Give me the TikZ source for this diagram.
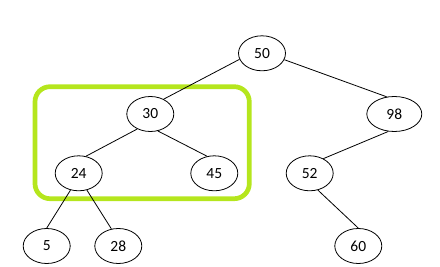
\documentclass[tikz,border=0pt]{standalone}
\usepackage{fontspec}
\setmainfont{Carlito}
\usetikzlibrary{shapes.geometric}
\definecolor{hilite}{RGB}{181,230,29}
\tikzset{
  tnode/.style={ellipse, draw=black, line width=0.8pt, minimum width=47pt, minimum height=35pt, inner sep=0pt, font=\fontsize{15.5}{18}\selectfont},
  tedge/.style={draw=black, line width=0.8pt}
}
\begin{document}
\begin{tikzpicture}[x=1pt,y=-1pt]
\useasboundingbox (0,0) rectangle (440,267);
\draw[hilite, line width=4.7pt, rounded corners=15pt] (35,86.7) rectangle (249.3,198.7);
\node[tnode] (n50) at (262,53.3) {50};
\node[tnode] (n30) at (150.3,114) {30};
\node[tnode, minimum width=55pt] (n98) at (394.3,114) {98};
\node[tnode] (n24) at (78.7,173.3) {24};
\node[tnode] (n45) at (214.3,173.3) {45};
\node[tnode] (n52) at (309.7,173.3) {52};
\node[tnode] (n5) at (46.7,246) {5};
\node[tnode] (n28) at (118.3,246) {28};
\node[tnode] (n60) at (358.3,246) {60};
\draw[tedge] (n50.195) -- (n30.48);
\draw[tedge] (n50.344) -- (n98.114);
\draw[tedge] (n30.229) -- (n24.67);
\draw[tedge] (n30.294) -- (n45.113);
\draw[tedge] (n24.244) -- (n5.90);
\draw[tedge] (n24.296) -- (n28.112);
\draw[tedge] (n98.251) -- (n52.47);
\draw[tedge] (n52.296) -- (n60.90);
\end{tikzpicture}
\end{document}
